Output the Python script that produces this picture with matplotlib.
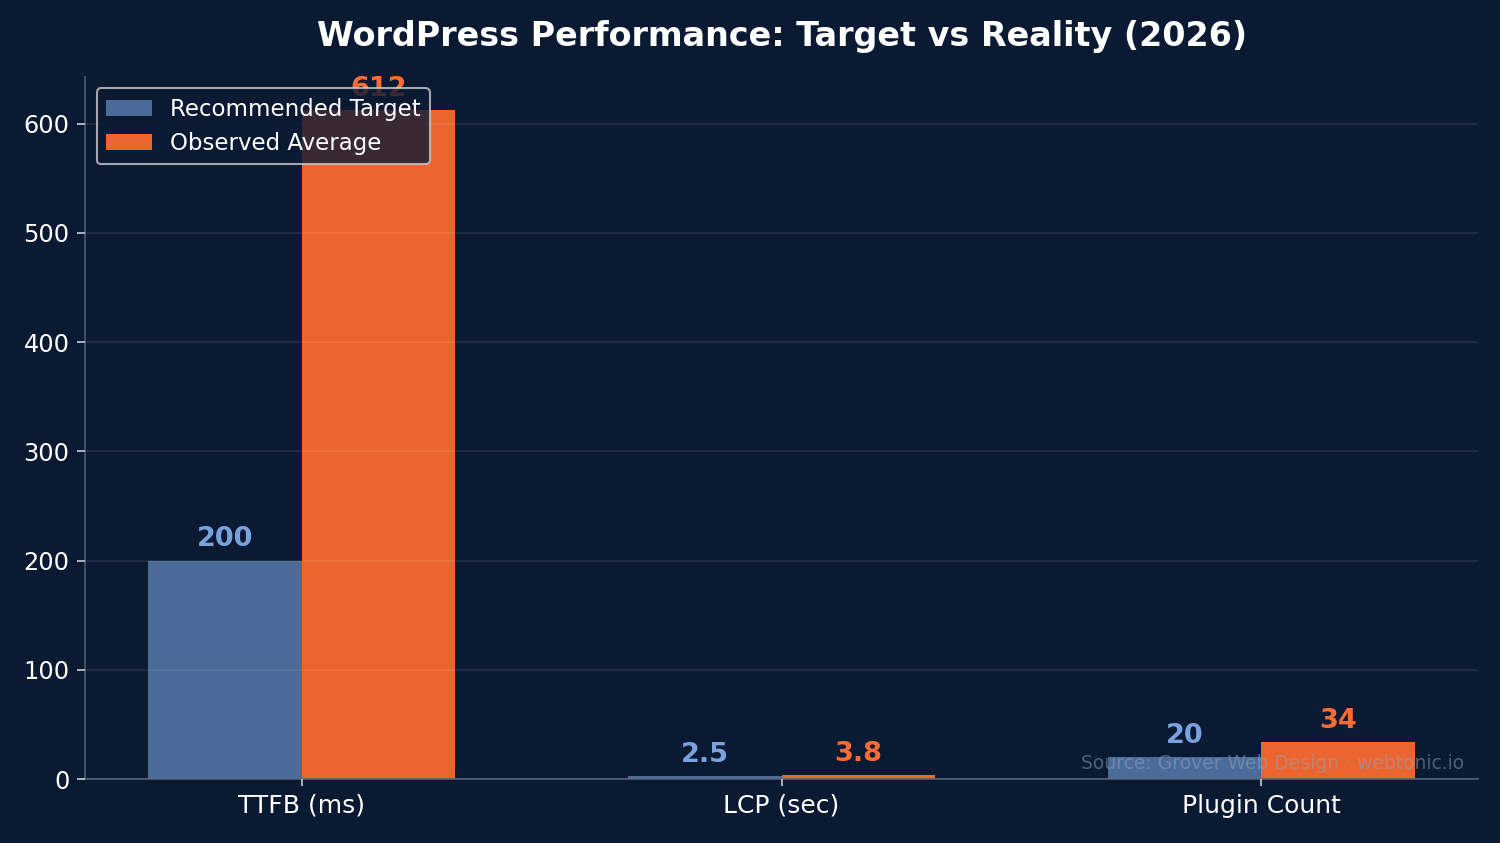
import matplotlib
matplotlib.use("Agg")
import matplotlib.pyplot as plt
import numpy as np

categories = ["TTFB (ms)", "LCP (sec)", "Plugin Count"]
target_vals = [200, 2.5, 20]
observed_vals = [612, 3.8, 34]
target_labels = ["200", "2.5", "20"]
observed_labels = ["612", "3.8", "34"]
series_names = ["Recommended Target", "Observed Average"]
title = "WordPress Performance: Target vs Reality (2026)"
source = "Source: Grover Web Design \u00b7 webtonic.io"

BG = "#0B1A33"
BLUE = "#4B6B98"
ORANGE = "#EC6530"
BLUE_TXT = "#7AA2DD"
ORANGE_TXT = "#FF6B35"

fig = plt.figure(figsize=(10, 5.62), dpi=150, facecolor=BG)
ax = fig.add_axes([0.0567, 0.0759, 0.9287, 0.8328])
ax.set_facecolor(BG)

x = np.arange(len(categories))
w = 0.32
b1 = ax.bar(x - w / 2, target_vals, w, color=BLUE, label=series_names[0], zorder=2)
b2 = ax.bar(x + w / 2, observed_vals, w, color=ORANGE, label=series_names[1], zorder=2)

ax.bar_label(b1, labels=target_labels, padding=4, color=BLUE_TXT, fontsize=13, fontweight="bold")
ax.bar_label(b2, labels=observed_labels, padding=4, color=ORANGE_TXT, fontsize=13, fontweight="bold")

ax.set_ylim(0, max(observed_vals) * 1.05)
ax.set_xticks(x)
ax.set_xticklabels(categories, fontsize=12, color="white")
ax.tick_params(axis="y", labelsize=11.5, labelcolor="white", colors="#C8CED8", length=4)
ax.tick_params(axis="x", colors="#C8CED8", labelcolor="white")

ax.yaxis.grid(True, color="white", alpha=0.08, linewidth=1, zorder=3)
ax.set_axisbelow(False)
for s in ["top", "right"]:
    ax.spines[s].set_visible(False)
for s in ["left", "bottom"]:
    ax.spines[s].set_color("#4A5A70")

ax.set_title(title, color="white", fontsize=16, fontweight="bold", pad=15)

leg = ax.legend(loc="upper left", fontsize=11, facecolor=BG, edgecolor="#CCCCCC",
                framealpha=0.8, labelcolor="white")
leg.set_zorder(5)

ax.text(0.99, 0.008, source, transform=ax.transAxes, ha="right", va="bottom",
        fontsize=9, color="#8FA3BF", alpha=0.5, zorder=4)

fig.savefig("out.png", dpi=150, facecolor=BG)
